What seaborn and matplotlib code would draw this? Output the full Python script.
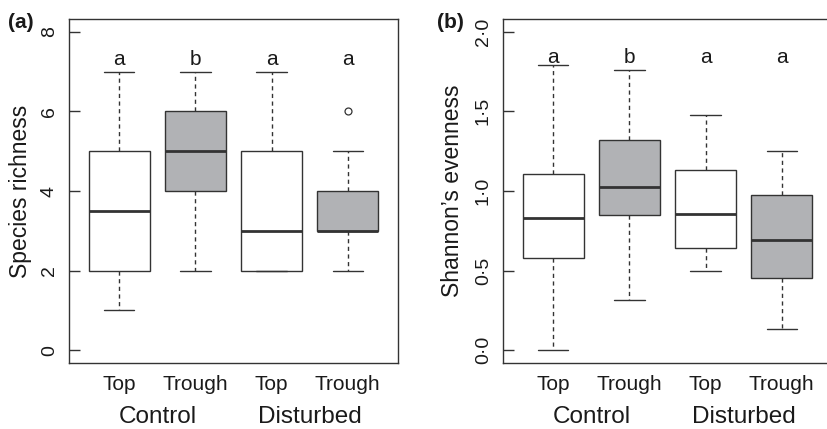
import numpy as np
import pandas as pd
import matplotlib
matplotlib.use("Agg")
import matplotlib.pyplot as plt
import seaborn as sns

# ---- data ----
groups = ["Control", "Control", "Disturbed", "Disturbed"]
positions = ["Top", "Trough", "Top", "Trough"]
group_names = ["Control", "Disturbed"]

# Species richness: values reproducing each box (min, Q1, median, Q3, max[, outlier])
rich_control_top = [1, 2, 3.5, 5, 7]
rich_control_trough = [2, 4, 5, 6, 7]
rich_disturbed_top = [2, 2, 3, 5, 7]
rich_disturbed_trough = [2, 3, 3, 3, 3, 4, 4, 5, 6]

# Shannon's evenness
even_control_top = [0.00, 0.578, 0.833, 1.109, 1.79]
even_control_trough = [0.314, 0.848, 1.023, 1.32, 1.757]
even_disturbed_top = [0.496, 0.639, 0.855, 1.132, 1.475]
even_disturbed_trough = [0.135, 0.455, 0.695, 0.975, 1.253]

letters_a = ["a", "b", "a", "a"]
letters_b = ["a", "b", "a", "a"]

ticks_a = [0, 2, 4, 6, 8]
ticklabels_a = ["0", "2", "4", "6", "8"]
ticks_b = [0.0, 0.5, 1.0, 1.5, 2.0]
ticklabels_b = ["0·0", "0·5", "1·0", "1·5", "2·0"]


def long_form(series_list):
    rows = []
    for i, vals in enumerate(series_list):
        for v in vals:
            rows.append({"cell": i, "pos": positions[i], "value": v})
    return pd.DataFrame(rows)


df_a = long_form([rich_control_top, rich_control_trough,
                  rich_disturbed_top, rich_disturbed_trough])
df_b = long_form([even_control_top, even_control_trough,
                  even_disturbed_top, even_disturbed_trough])

sns.set_style("ticks")
plt.rcParams["font.family"] = ["Liberation Sans", "DejaVu Sans"]

W, H = 827, 429
fig = plt.figure(figsize=(W / 100, H / 100), dpi=100)

ax_w = 329 / W
ax_h = (363 - 19) / H
ax_bottom = (H - 363) / H
ax_a = fig.add_axes([69 / W, ax_bottom, ax_w, ax_h])
ax_b = fig.add_axes([503 / W, ax_bottom, ax_w, ax_h])

line_c = "#333333"
text_c = "#1a1a1a"
palette = {"Top": "white", "Trough": "#b1b2b5"}


def draw(ax, df, ylim, ticks, ticklabels, ylabel, letters, letter_y, label_x):
    sns.boxplot(data=df, x="cell", y="value", hue="pos", palette=palette,
                dodge=False, legend=False, width=0.8, whis=1.5,
                linecolor=line_c, linewidth=1.0, ax=ax,
                whiskerprops={"linestyle": (0, (3, 2.5)), "linewidth": 1.0},
                capprops={"linewidth": 1.0},
                medianprops={"linewidth": 2.0, "color": line_c},
                flierprops={"marker": "o", "markerfacecolor": "none",
                            "markeredgecolor": line_c, "markersize": 5,
                            "markeredgewidth": 0.9})
    ax.set_xlim(-0.66, 3.66)
    ax.set_ylim(*ylim)
    ax.set_yticks(ticks)
    ax.set_yticklabels(ticklabels, rotation=90, va="center", fontsize=14,
                       color=text_c)
    ax.tick_params(axis="y", direction="in", length=8, width=1,
                   color=line_c, pad=8)
    ax.set_xticks(range(4))
    ax.set_xticklabels(positions, fontsize=15, color=text_c)
    ax.tick_params(axis="x", length=0, pad=9)
    ax.set_xlabel("")
    ax.set_ylabel(ylabel, fontsize=16.5, color=text_c, va="center")
    ax.yaxis.set_label_coords(label_x, 0.5)
    for sp in ax.spines.values():
        sp.set_visible(True)
        sp.set_color(line_c)
        sp.set_linewidth(1.0)
    for i, l in enumerate(letters):
        ax.text(i, letter_y, l, ha="center", va="center", fontsize=15,
                color=text_c)
    trans = matplotlib.transforms.blended_transform_factory(ax.transData,
                                                            ax.transAxes)
    for j, g in enumerate(group_names):
        ax.text(0.5 + 2 * j, -0.157, g, ha="center", va="center",
                fontsize=17.5, color=text_c, transform=trans)


draw(ax_a, df_a, (-0.32, 8.32), ticks_a, ticklabels_a, "Species richness",
     letters_a, 7.3, -0.146)
draw(ax_b, df_b, (-0.08, 2.08), ticks_b, ticklabels_b, "Shannon’s evenness",
     letters_b, 1.84, -0.155)

fig.text(8 / W, 1 - 22 / H, "(a)", fontsize=15, fontweight="bold",
         va="center", ha="left", color=text_c)
fig.text(437 / W, 1 - 23 / H, "(b)", fontsize=15, fontweight="bold",
         va="center", ha="left", color=text_c)

fig.savefig("out.png", dpi=100)
